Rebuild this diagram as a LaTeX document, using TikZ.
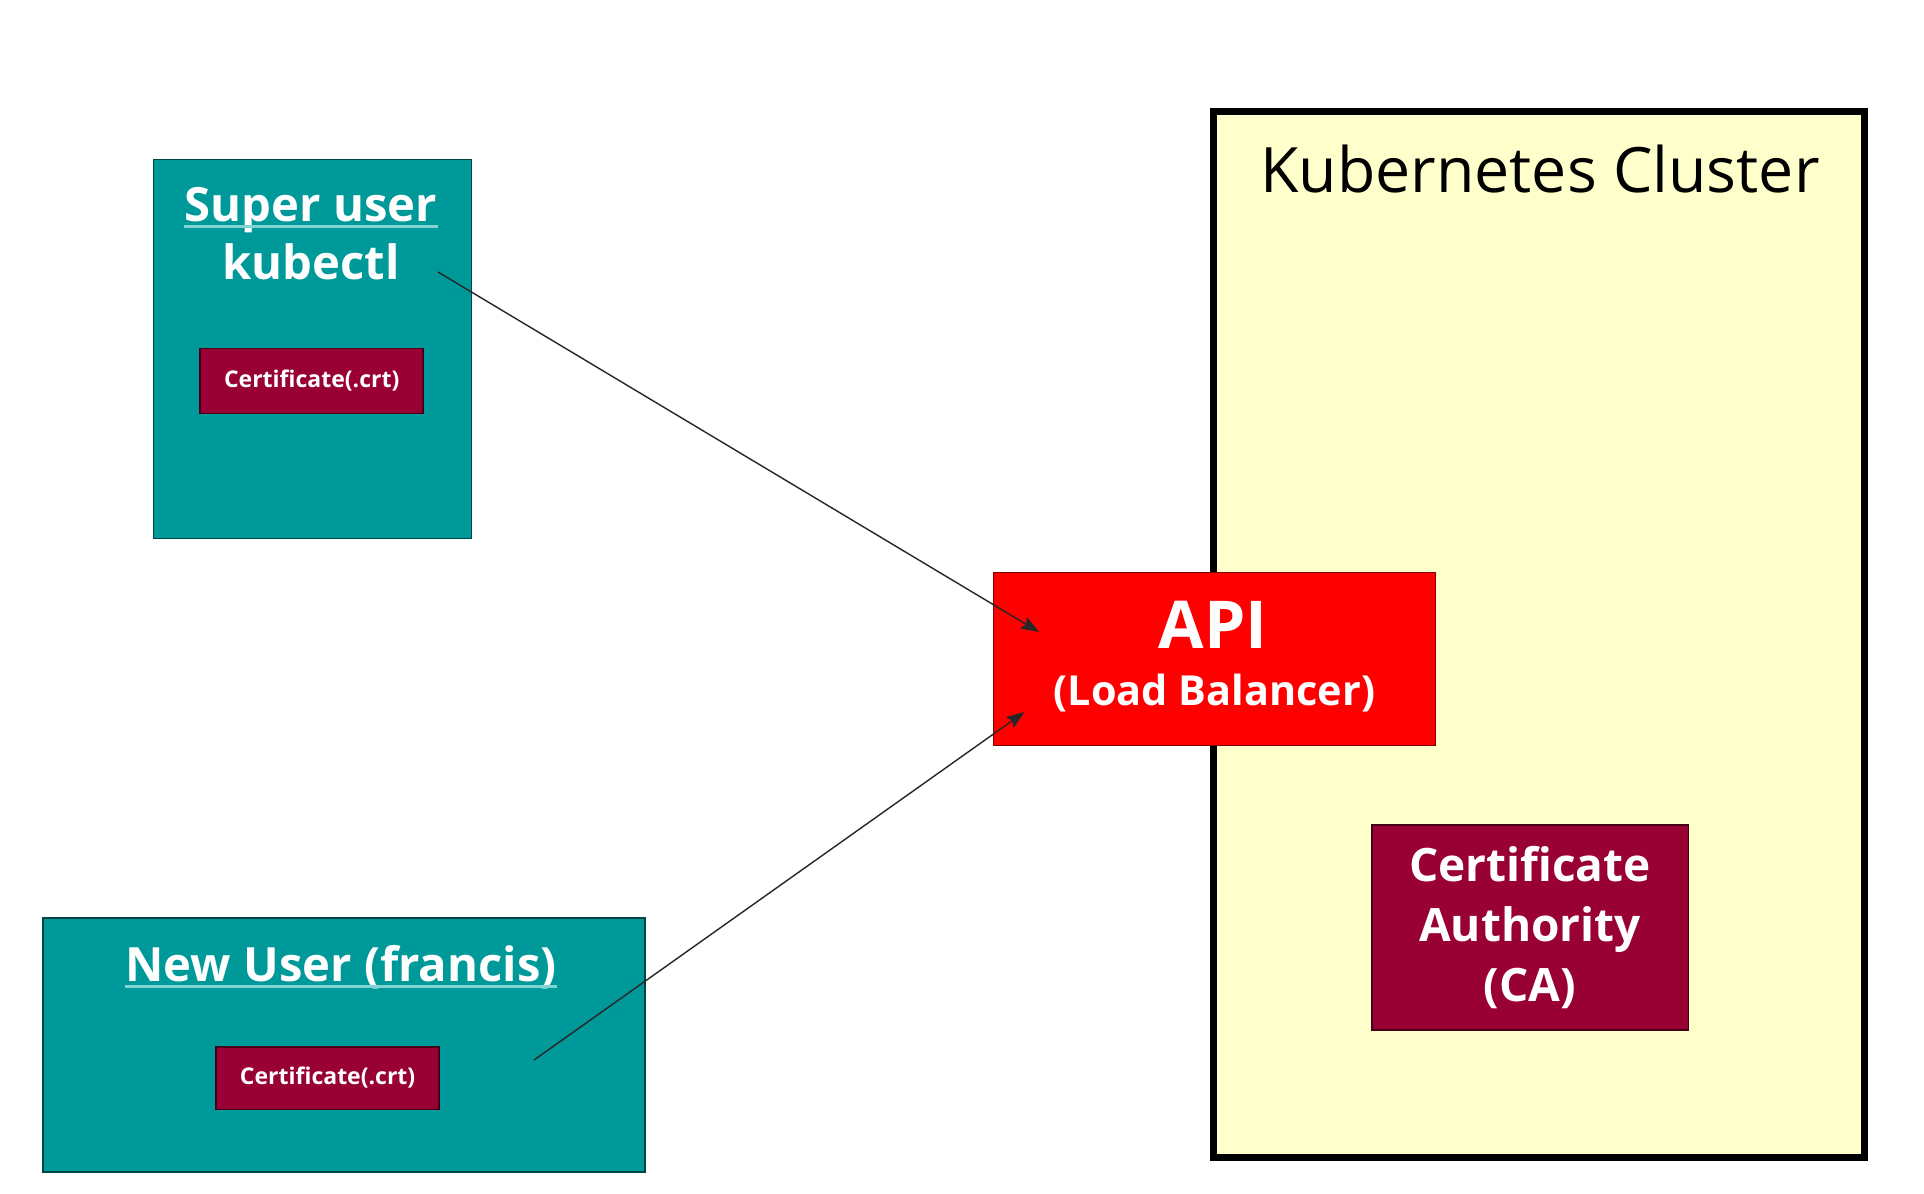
\documentclass[tikz,border=0pt]{standalone}
\usepackage{fontspec}
\setmainfont{Open Sans}
\usetikzlibrary{positioning,arrows.meta}

\definecolor{userteal}{HTML}{009999}
\definecolor{certred}{HTML}{990033}
\definecolor{apired}{HTML}{FF0000}
\definecolor{clusteryellow}{HTML}{FFFFCC}
\definecolor{lineteal}{HTML}{80D4D4}

\tikzset{
  userbox/.style = {fill = userteal, draw = userteal!45!black, line width = 0.8pt, shape = rectangle, inner sep = 0pt},
  certbox/.style = {fill = certred, draw = certred!45!black, line width = 0.8pt, shape = rectangle, inner sep = 0pt, minimum width = 111.5pt, text = white, font = \bfseries\fontsize{11.5}{14}\selectfont},
  headtext/.style = {inner sep = 0pt, text = white, font = \bfseries\fontsize{23.6}{28}\selectfont},
  headline/.style = {draw = lineteal, line width = 1.5pt},
  link/.style = {draw = black!85, line width = 0.7pt, -{Stealth[length = 9pt, width = 6.5pt, inset = 1.5pt]}}
}

\begin{document}
\begin{tikzpicture}[x = 0.5pt, y = -0.5pt]
\useasboundingbox[fill = white] (0,0) rectangle (1924,1194);

% cluster
\node[fill = clusteryellow, draw = black, line width = 3.5pt, shape = rectangle, minimum width = 325.5pt, minimum height = 523pt] (cluster) at (1538.5,634.5) {};
\node[inner sep = 0pt, anchor = base, font = \fontsize{31.3}{36}\selectfont] (clustertitle) at (1540,192) {Kubernetes Cluster};

% super user
\node[userbox, minimum width = 159pt, minimum height = 189.5pt] (su) at (312.3,349) {};
\node[headtext, anchor = base] (suhead) at (311,221) {Super user};
\node[headtext, anchor = base] (sutool) at (311,279) {kubectl};
\node[certbox, minimum height = 32.5pt] (sucert) at (311.7,381) {Certificate(.crt)};
\draw[headline] ([yshift = -2.5pt]suhead.base west) -- ([yshift = -2.5pt]suhead.base east);

% new user
\node[userbox, minimum width = 301pt, minimum height = 127pt] (nu) at (344.2,1044.8) {};
\node[headtext, anchor = base] (nuhead) at (341,981) {New User (francis)};
\node[certbox, minimum height = 31.3pt] (nucert) at (327.6,1078) {Certificate(.crt)};
\draw[headline] ([yshift = -2.5pt]nuhead.base west) -- ([yshift = -2.5pt]nuhead.base east);

% api
\node[fill = apired, draw = apired!50!black, line width = 0.8pt, shape = rectangle, inner sep = 0pt, minimum width = 221pt, minimum height = 86.5pt] (api) at (1214.5,659) {};
\node[inner sep = 0pt, anchor = base, text = white, font = \bfseries\fontsize{33}{38}\selectfont] (apiname) at (1213,648) {API};
\node[inner sep = 0pt, anchor = base, text = white, font = \bfseries\fontsize{20.7}{24}\selectfont] (apisub) at (1214.5,705) {(Load Balancer)};

% ca
\node[fill = certred, draw = certred!45!black, line width = 0.8pt, shape = rectangle, inner sep = 0pt, minimum width = 158.3pt, minimum height = 102.5pt, align = center, text = white, font = \bfseries\fontsize{23}{30}\selectfont] (ca) at (1530,927.5) {Certificate\\Authority\\(CA)};

% links
\coordinate (suout) at (438,272);
\coordinate (apiintop) at (1039,632);
\coordinate (nuout) at (534,1060);
\coordinate (apiinbottom) at (1024.5,712);
\draw[link] (suout) -- (apiintop);
\draw[link] (nuout) -- (apiinbottom);
\end{tikzpicture}
\end{document}
